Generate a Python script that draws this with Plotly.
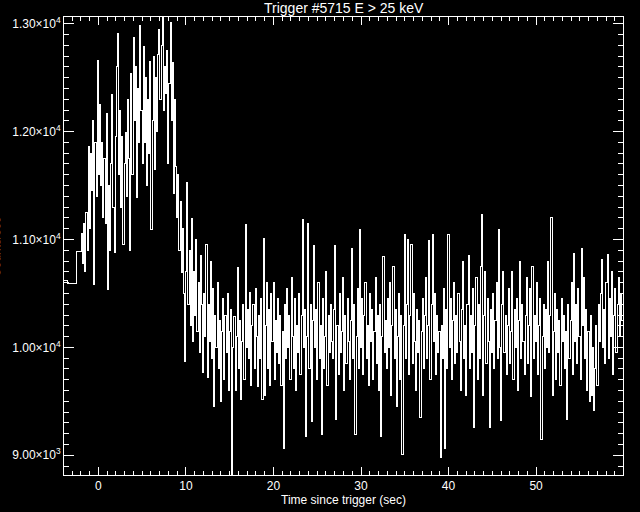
import plotly.graph_objects as go

# ---- data -------------------------------------------------------------
# coarse pre-trigger bins (edges in s, rates in counts/s)
pre_edges = [-3.93, -3.50, -2.50, -1.93]
pre_rates = [10620, 10595, 10890]

# fine-resolution bins starting at t0 with width dt
fine_t0 = -1.93
fine_dt = 0.128
fine_rates = [
    11060, 10780, 11150, 10700, 11250, 10900, 11860, 11100, 11800, 11450, 12100, 10580, 11900, 11400, 12660, 11600,
    12250, 11500, 11900, 11200, 11750, 11150, 12170, 10540, 11500, 10900, 11700, 12340, 11300, 10880, 11950, 12600,
    12910, 11600, 12200, 11300, 11950, 10950, 11700, 11990, 11400, 12300, 11750, 10900, 12540, 11600, 12870, 12100,
    12600, 11390, 12400, 11900, 12980, 12200, 11700, 12790, 11900, 12500, 11500, 12300, 11800, 12650, 11090, 12100,
    12700, 11650, 12500, 12000, 12710, 12950, 12300, 12800, 13062, 12200, 12600, 12350, 12750, 11700, 12450, 13010,
    12100, 12640, 11430, 12300, 11680, 11200, 11600, 10900, 11350, 10690, 11100, 10500, 9870, 10700, 11530, 10400,
    10900, 10200, 11190, 10050, 10700, 10300, 11000, 10150, 10600, 9950, 10850, 10400, 9770, 10500, 10100, 10950,
    9720, 10400, 10050, 10800, 9900, 10550, 9450, 10300, 10000, 10600, 9800, 10250, 9500, 10150, 10450, 9700,
    10300, 9950, 10500, 9600, 10150, 10350, 8817, 10000, 10290, 9600, 10100, 10740, 9800, 10250, 9520, 10050,
    10400, 9700, 11140, 10000, 10350, 9900, 10510, 9650, 10200, 10400, 9800, 10550, 10100, 9640, 10300, 9900,
    10450, 9520, 11010, 9550, 10200, 10600, 9800, 10350, 9650, 10500, 10050, 10600, 9700, 10250, 9950, 10450,
    9850, 10300, 9650, 10150, 9060, 10400, 9900, 10550, 10000, 10300, 9700, 10650, 10100, 9800, 10450, 9600,
    10200, 9950, 10500, 9750, 10300, 11185, 10000, 10350, 9170, 10100, 11150, 9800, 10400, 9315, 10250, 10945,
    10000, 10350, 9700, 10600, 9900, 10200, 9190, 10450, 9800, 10100, 10700, 9650, 10300, 9950, 10400, 10050,
    9900, 10350, 10940, 9330, 10200, 9750, 10500, 9950, 10150, 10650, 9600, 10300, 9850, 10450, 10050, 9700,
    10250, 10920, 9900, 10400, 9190, 10100, 10550, 9800, 11090, 10000, 10450, 9750, 10300, 10600, 9900, 10200,
    9650, 10500, 10050, 10350, 9700, 10150, 10650, 9850, 10300, 9600, 10400, 9170, 10100, 10840, 9950, 10250,
    9800, 10450, 10000, 10600, 9550, 10200, 10750, 9900, 10350, 9450, 10100, 10500, 9700, 10300, 9005, 10200,
    11045, 9900, 10400, 11000, 9750, 10300, 10950, 9850, 10500, 10050, 9600, 10350, 9950, 10250, 9350, 10150,
    10450, 9800, 10300, 10650, 9900, 10200, 10990, 9700, 10400, 11045, 10050, 10500, 9750, 10300, 9950, 10150,
    8975, 10200, 9900, 10550, 9060, 10350, 9800, 11045, 10000, 10450, 9700, 10250, 10600, 9850, 10300, 9950,
    10500, 10050, 9600, 10350, 10800, 9900, 10200, 9550, 10400, 10850, 9800, 10300, 9950, 10550, 9260, 10200,
    10650, 9700, 10400, 9900, 10750, 11230, 9550, 10300, 10700, 9850, 10450, 10050, 9260, 10350, 9950, 10500,
    9800, 10250, 10600, 9900, 11090, 10000, 9320, 10400, 10700, 9950, 10300, 9750, 10200, 10550, 9850, 10150,
    10700, 9700, 10350, 10000, 10450, 9600, 10250, 10800, 9900, 10400, 10050, 9750, 10300, 10650, 9850, 10200,
    10550, 9540, 10750, 9900, 10300, 10050, 10600, 9750, 10200, 10450, 9150, 10100, 10400, 9800, 10350, 10000,
    10800, 9950, 10300, 11200, 9550, 10150, 10500, 9700, 10350, 9950, 10250, 9650, 10450, 10050, 10300, 9800,
    10150, 9330, 10400, 9900, 10250, 10600, 9750, 10870, 10050, 10400, 9850, 10550, 10100, 9700, 10920, 10200,
    10650, 9900, 10350, 9600, 10150, 9500, 10300, 9550, 10000, 9415, 9800, 10200, 9650, 10400, 10050, 10500,
    10810, 10000, 10350, 9850, 10600, 10860, 9900, 10450, 10100, 10700, 9750, 10300, 10550, 9950, 10400, 10650,
    10100, 10500, 10250,
]

title_text = "Trigger #5715 E > 25 keV"
x_title = "Time since trigger (sec)"
y_title = "Counts/sec"
x_range = [-3.93, 59.93]
y_range = [8817, 13062]
y_tick_vals = [9000, 10000, 11000, 12000, 13000]
y_tick_text = ["9.00×10<sup>3</sup>", "1.00×10<sup>4</sup>", "1.10×10<sup>4</sup>",
               "1.20×10<sup>4</sup>", "1.30×10<sup>4</sup>"]

# ---- build step series ------------------------------------------------
fine_edges = [fine_t0 + fine_dt * i for i in range(len(fine_rates))]
xs = pre_edges[:-1] + fine_edges + [fine_t0 + fine_dt * len(fine_rates)]
ys = pre_rates + fine_rates + [fine_rates[-1]]

fig = go.Figure()
fig.add_trace(go.Scatter(x=xs, y=ys, mode="lines", line=dict(color="white", width=1, shape="hv"),
                         hoverinfo="skip", showlegend=False))

font_family = "Liberation Sans"
fig.update_layout(
    width=640, height=512,
    paper_bgcolor="black", plot_bgcolor="black",
    margin=dict(l=61, r=17, t=17, b=37),
    font=dict(family=font_family, color="white", size=12),
    showlegend=False,
    annotations=[
        dict(text=title_text, xref="paper", yref="paper", x=0.5, y=1, yshift=9,
             xanchor="center", yanchor="middle", showarrow=False,
             font=dict(size=14, color="white", family=font_family)),
        dict(text=x_title, xref="paper", yref="paper", x=0.5, y=0, yshift=-25,
             xanchor="center", yanchor="middle", showarrow=False,
             font=dict(size=12, color="white", family=font_family)),
        dict(text=y_title, xref="paper", yref="paper", x=0, xshift=-68, y=0.498,
             xanchor="center", yanchor="middle", textangle=-90, showarrow=False,
             font=dict(size=12, color="white", family=font_family)),
    ],
)
fig.update_xaxes(
    range=x_range, showgrid=False, zeroline=False,
    showline=True, linecolor="white", linewidth=1, mirror="allticks",
    ticks="inside", ticklen=8, tickcolor="white", tickwidth=1,
    tickmode="linear", tick0=0, dtick=10,
    tickfont=dict(size=12, color="white"),
    minor=dict(tickmode="linear", tick0=0, dtick=1, ticks="inside", ticklen=4,
               tickcolor="white", tickwidth=1, showgrid=False),
)
fig.update_yaxes(
    range=y_range, showgrid=False, zeroline=False,
    showline=True, linecolor="white", linewidth=1, mirror="allticks",
    ticks="inside", ticklen=10, tickcolor="white", tickwidth=1,
    tickmode="array", tickvals=y_tick_vals, ticktext=y_tick_text,
    tickfont=dict(size=12, color="white"),
    minor=dict(tickmode="linear", tick0=0, dtick=100, ticks="inside", ticklen=5,
               tickcolor="white", tickwidth=1, showgrid=False),
)

post = ("document.body.style.margin='0';"
        "document.querySelectorAll('.scatterlayer path').forEach(function(p){"
        "p.style.shapeRendering='crispEdges';});")
fig.write_html("out.html", config={"displayModeBar": False}, post_script=post)
